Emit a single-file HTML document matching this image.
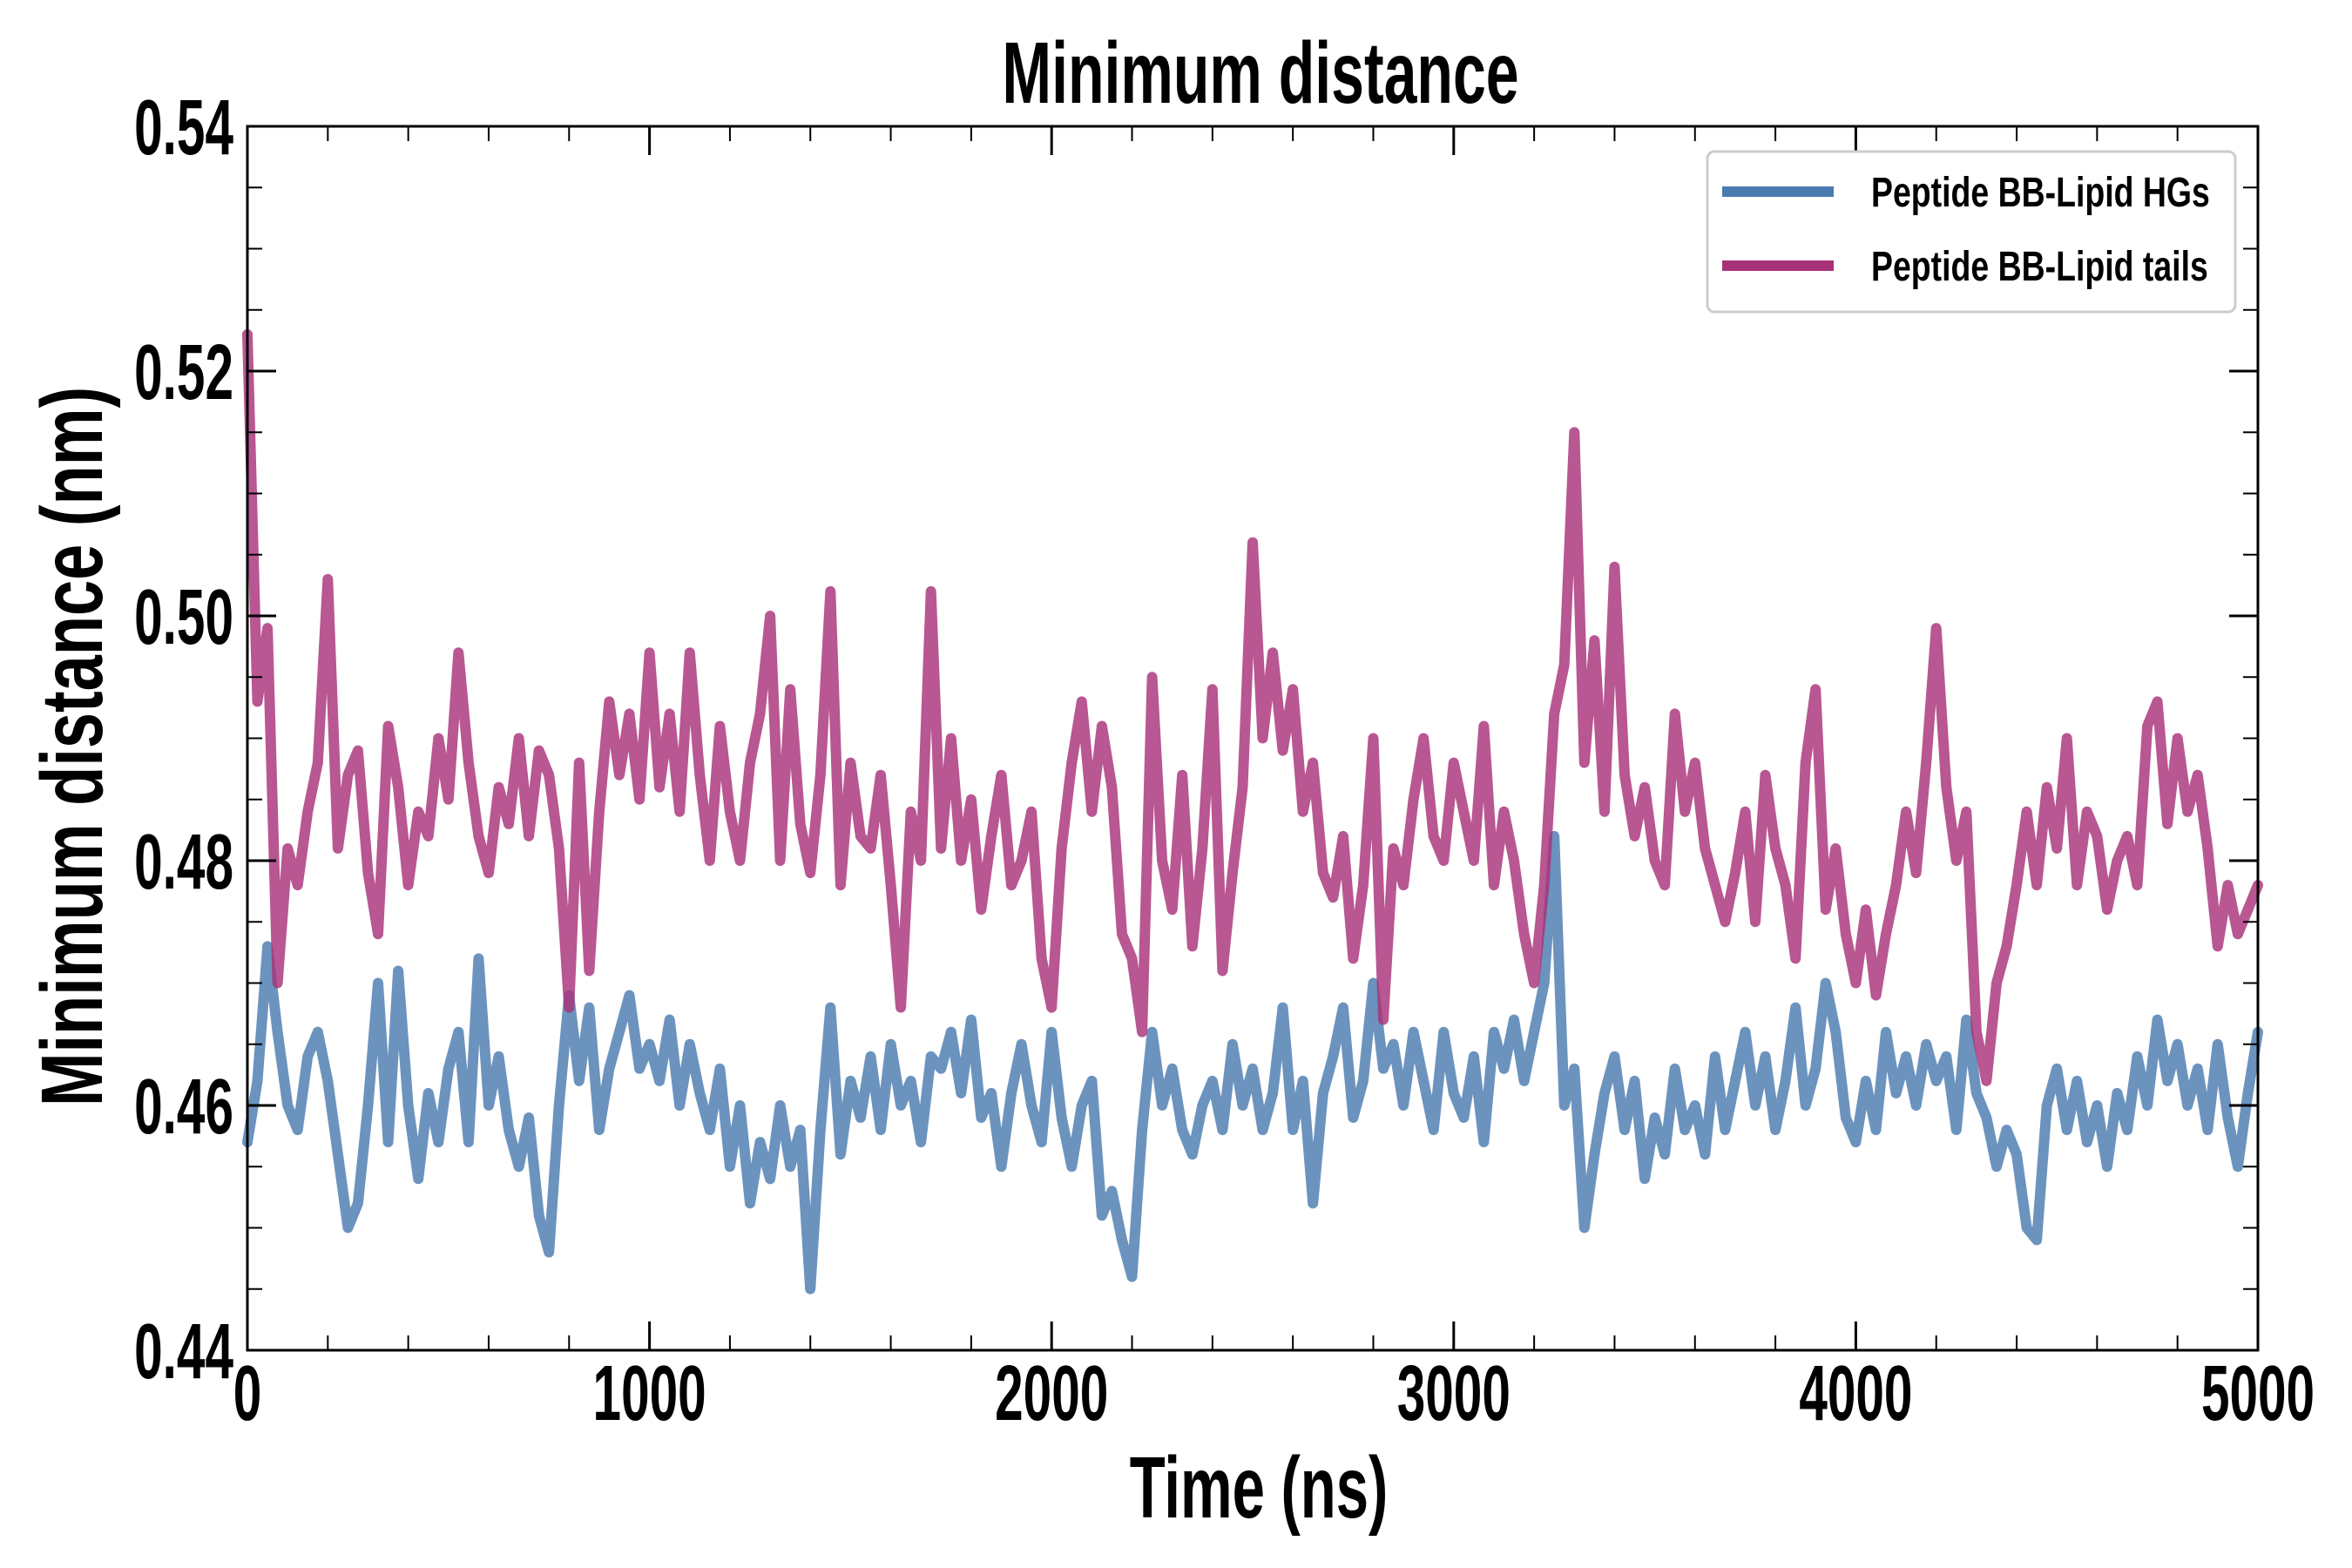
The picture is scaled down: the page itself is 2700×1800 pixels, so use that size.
<!DOCTYPE html>
<html><head><meta charset="utf-8">
<style>
html,body{margin:0;padding:0;background:#fff;}
svg{display:block;}
text{font-family:"Liberation Sans Narrow","Liberation Sans",sans-serif;font-weight:bold;fill:#000;}
</style></head>
<body>
<svg id="chart" width="2700" height="1800" viewBox="0 0 2700 1800">
<rect width="2700" height="1800" fill="#fff"/>
<g id="series"></g>
<g id="axes"></g>
<text x="0" y="0" font-size="100" text-anchor="middle" transform="translate(1447,118) scale(0.68,1)">Minimum distance</text>
<text x="0" y="0" font-size="100" text-anchor="middle" transform="translate(1445,1742) scale(0.67,1)">Time (ns)</text>
<text x="0" y="0" font-size="100" text-anchor="middle" transform="translate(117,857) rotate(-90) scale(0.74,1)">Minimum distance (nm)</text>
<g>
<rect x="1960" y="174" width="606" height="184" rx="8" fill="#fff" stroke="#ccc" stroke-width="3"/>
<line x1="1977" y1="220" x2="2105" y2="220" stroke="#4a7bb0" stroke-width="12"/>
<text x="0" y="0" font-size="48" transform="translate(2148,237) scale(0.78,1)">Peptide BB-Lipid HGs</text>
<line x1="1977" y1="305" x2="2105" y2="305" stroke="#a8327a" stroke-width="12"/>
<text x="0" y="0" font-size="48" transform="translate(2148,322) scale(0.78,1)">Peptide BB-Lipid tails</text>
</g>
</svg>
<script>
const xTicks = [0,1000,2000,3000,4000,5000];
const yTicks = [0.44,0.46,0.48,0.50,0.52,0.54];
const yTickLabels = ["0.44","0.46","0.48","0.50","0.52","0.54"];
const tStart = 0, tEnd = 5000;
const hgsValues = [.457,.462,.473,.466,.460,.458,.464,.466,.462,.456,.450,.452,.460,.470,.457,.471,.460,.454,.461,.457,.463,.466,.457,.472,.460,.464,.458,.455,.459,.451,.448,.460,.469,.462,.468,.458,.463,.466,.469,.463,.465,.462,.467,.460,.465,.461,.458,.463,.455,.460,.452,.457,.454,.460,.455,.458,.445,.458,.468,.456,.462,.459,.464,.458,.465,.460,.462,.457,.464,.463,.466,.461,.467,.459,.461,.455,.461,.465,.460,.457,.466,.459,.455,.460,.462,.451,.453,.449,.446,.458,.466,.460,.463,.458,.456,.460,.462,.458,.465,.460,.463,.458,.461,.468,.458,.462,.452,.461,.464,.468,.459,.462,.470,.463,.465,.460,.466,.462,.458,.466,.461,.459,.464,.457,.466,.463,.467,.462,.466,.470,.482,.460,.463,.450,.456,.461,.464,.458,.462,.454,.459,.456,.463,.458,.460,.456,.464,.458,.462,.466,.460,.464,.458,.462,.468,.460,.463,.470,.466,.459,.457,.462,.458,.466,.461,.464,.460,.465,.462,.464,.458,.467,.461,.459,.455,.458,.456,.450,.449,.460,.463,.458,.462,.457,.460,.455,.461,.458,.464,.460,.467,.462,.465,.460,.463,.458,.465,.459,.455,.461,.466];
const tailValues = [.523,.493,.499,.470,.481,.478,.484,.488,.503,.481,.487,.489,.479,.474,.491,.486,.478,.484,.482,.490,.485,.497,.488,.482,.479,.486,.483,.490,.482,.489,.487,.481,.468,.488,.471,.484,.493,.487,.492,.485,.497,.486,.492,.484,.497,.487,.480,.491,.484,.480,.488,.492,.500,.480,.494,.483,.479,.487,.502,.478,.488,.482,.481,.487,.478,.468,.484,.480,.502,.481,.490,.480,.485,.476,.482,.487,.478,.480,.484,.472,.468,.481,.488,.493,.484,.491,.486,.474,.472,.466,.495,.480,.476,.487,.473,.481,.494,.471,.479,.486,.506,.490,.497,.489,.494,.484,.488,.479,.477,.482,.472,.478,.490,.467,.481,.478,.485,.490,.482,.480,.488,.484,.480,.491,.478,.484,.480,.474,.470,.478,.492,.496,.515,.488,.498,.484,.504,.487,.482,.486,.480,.478,.492,.484,.488,.481,.478,.475,.479,.484,.475,.487,.481,.478,.472,.488,.494,.476,.481,.474,.470,.476,.469,.474,.478,.484,.479,.488,.499,.486,.480,.484,.466,.462,.470,.473,.478,.484,.478,.486,.481,.490,.478,.484,.482,.476,.480,.482,.478,.491,.493,.483,.490,.484,.487,.481,.473,.478,.474,.476,.478];

const L=284,R=2592,T=145,B=1550;
function xScale(t){return L+(t-tStart)/(tEnd-tStart)*(R-L);}
function yScale(v){return B-(v-0.44)/(0.54-0.44)*(B-T);}
const NS="http://www.w3.org/2000/svg";
const series=document.getElementById('series');
const axes=document.getElementById('axes');

function drawLine(vals,color,name){
  const n=vals.length;
  let d="";
  vals.forEach((v,i)=>{
    const t=tStart+i*(tEnd-tStart)/(n-1);
    d+=(i?"L":"M")+xScale(t).toFixed(1)+","+yScale(v).toFixed(1);
  });
  const p=document.createElementNS(NS,'path');
  p.setAttribute('d',d);
  p.setAttribute('fill','none');
  p.setAttribute('stroke',color);
  p.setAttribute('stroke-width','12');
  p.setAttribute('stroke-opacity','0.82');
  p.setAttribute('stroke-linejoin','round');
  p.setAttribute('stroke-linecap','round');
  
  
  series.appendChild(p);
}
drawLine(hgsValues,'#4a7bb0','line-lipid-hgs');
drawLine(tailValues,'#a8327a','line-lipid-tails');

function mk(tag,attrs){const e=document.createElementNS(NS,tag);for(const k in attrs)e.setAttribute(k,attrs[k]);axes.appendChild(e);return e;}
const frame=mk('rect',{x:L,y:T,width:R-L,height:B-T,fill:'none',stroke:'#000','stroke-width':3});



for(let t=0;t<=5000;t+=200){
  const x=xScale(t), major=(t%1000===0), len=major?33:17;
  const a=mk('line',{x1:x,y1:B,x2:x,y2:B-len,stroke:'#000','stroke-width':major?3:2});
  
  
  const b=mk('line',{x1:x,y1:T,x2:x,y2:T+len,stroke:'#000','stroke-width':major?3:2});
  
  
}
xTicks.forEach(t=>{
  const tx=mk('text',{x:0,y:0,'font-size':90,'text-anchor':'middle',transform:'translate('+xScale(t)+',1630) scale(0.65,1)'});
  tx.textContent=String(t);
  
  
});
for(let k=0;k<=20;k++){
  const v=0.44+k*0.005, y=yScale(v), major=(k%4===0), len=major?33:17;
  const a=mk('line',{x1:L,y1:y,x2:L+len,y2:y,stroke:'#000','stroke-width':major?3:2});
  
  
  const b=mk('line',{x1:R,y1:y,x2:R-len,y2:y,stroke:'#000','stroke-width':major?3:2});
  
  
}
yTicks.forEach((v,i)=>{
  const tx=mk('text',{x:0,y:0,'font-size':90,'text-anchor':'end',transform:'translate(268,'+(yScale(v)+32)+') scale(0.65,1)'});
  tx.textContent=yTickLabels[i];
  
  
});
</script>
</body></html>
